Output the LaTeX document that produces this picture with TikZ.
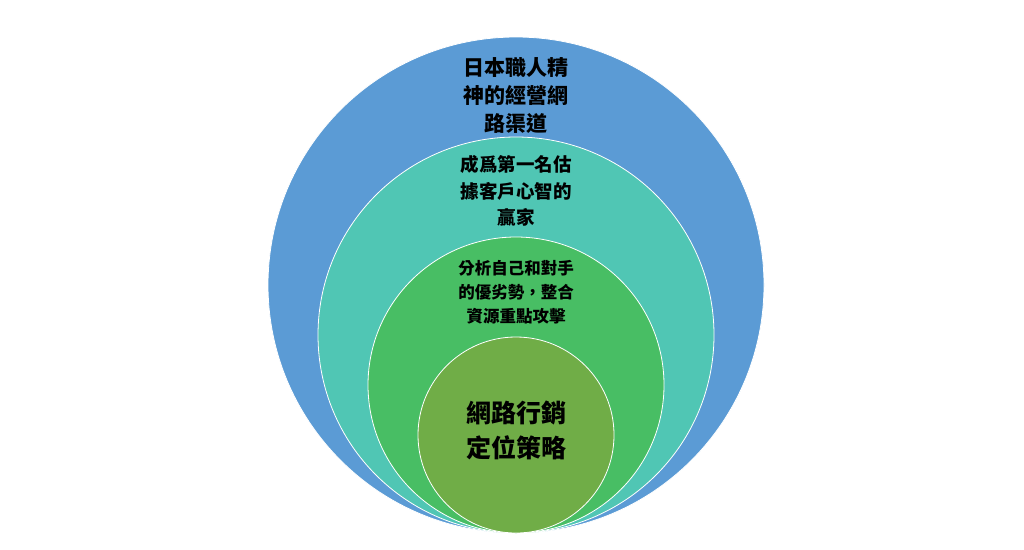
\documentclass[tikz,border=0pt]{standalone}
\usepackage{fontspec}
\newfontfamily\cjk{Noto Sans CJK TC}
\definecolor{outerblue}{RGB}{91,155,213}
\definecolor{ringteal}{RGB}{80,198,180}
\definecolor{ringgreen}{RGB}{72,190,100}
\definecolor{coregreen}{RGB}{112,173,71}
\begin{document}
\begin{tikzpicture}[x=1pt,y=-1pt]
  \tikzstyle{ring}=[circle, draw=white, line width=0.8pt, inner sep=0pt]
  \tikzstyle{lbl}=[align=center, text=black, inner sep=0pt]

  \useasboundingbox (0,0) rectangle (1024,549);

  \node[ring, fill=outerblue, minimum size=496pt] (outer) at (516,285) {};
  \node[ring, fill=ringteal, minimum size=396pt] (teal) at (516,335) {};
  \node[ring, fill=ringgreen, minimum size=296pt] (green) at (516,385) {};
  \node[ring, fill=coregreen, minimum size=196pt] (core) at (516,435) {};

  \node[lbl, font=\cjk\bfseries\fontsize{21}{28}\selectfont] (t1) at (516,96) {日本職人精\\神的經營網\\路渠道};
  \node[lbl, font=\cjk\bfseries\fontsize{18.5}{26.5}\selectfont] (t2) at (516,191) {成爲第一名估\\據客戶心智的\\贏家};
  \node[lbl, font=\cjk\bfseries\fontsize{16.5}{24}\selectfont] (t3) at (516,292) {分析自己和對手\\的優劣勢，整合\\資源重點攻擊};
  \node[lbl, font=\cjk\bfseries\fontsize{25}{35}\selectfont] (t4) at (516,430) {網路行銷\\定位策略};
\end{tikzpicture}
\end{document}
